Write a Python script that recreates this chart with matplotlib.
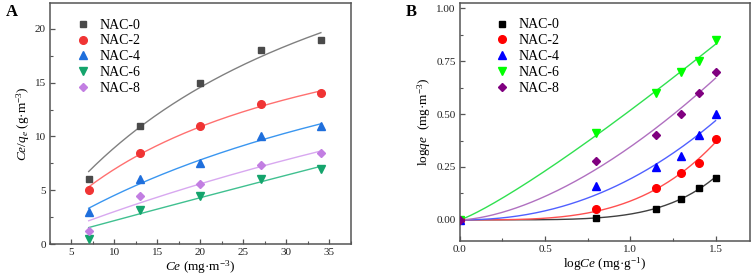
import numpy as np
import matplotlib
matplotlib.use("Agg")
import matplotlib.pyplot as plt
from matplotlib.ticker import MultipleLocator, FormatStrFormatter

plt.rcParams['font.family'] = ['Liberation Serif', 'DejaVu Serif']
plt.rcParams['mathtext.fontset'] = 'custom'
plt.rcParams['mathtext.rm'] = 'Liberation Serif'
plt.rcParams['mathtext.it'] = 'Liberation Serif:italic'

series = ['NAC-0', 'NAC-2', 'NAC-4', 'NAC-6', 'NAC-8']

# Panel A
ce_a = [7, 13, 20, 27, 34]
ya = {
    'NAC-0': [6.0, 11.0, 15.0, 18.0, 19.0],
    'NAC-2': [5.0, 8.5, 11.0, 13.0, 14.0],
    'NAC-4': [3.0, 6.0, 7.5, 10.0, 11.0],
    'NAC-6': [0.5, 3.2, 4.5, 6.0, 7.0],
    'NAC-8': [1.2, 4.5, 5.6, 7.3, 8.5],
}
# Panel B
logce_b = [0.0, 0.8, 1.15, 1.3, 1.4, 1.5]
yb = {
    'NAC-0': [0.0, 0.01, 0.05, 0.10, 0.15, 0.20],
    'NAC-2': [0.0, 0.05, 0.15, 0.22, 0.27, 0.38],
    'NAC-4': [0.0, 0.16, 0.25, 0.30, 0.40, 0.50],
    'NAC-6': [0.0, 0.41, 0.60, 0.70, 0.75, 0.85],
    'NAC-8': [0.0, 0.28, 0.40, 0.50, 0.60, 0.70],
}

markers = ['s', 'o', '^', 'v', 'D']
msizes = [5, 5.5, 5.5, 5.5, 4.5]
cols_a_m = ['#4a4a4a', '#f03434', '#1f6fdc', '#14a46c', '#c27ee2']
cols_a_l = ['#808080', '#ff7070', '#3a96f0', '#40c090', '#d8a8f0']
cols_b_m = ['#000000', '#ff0000', '#0000ff', '#00ff00', '#800080']
cols_b_l = ['#404040', '#ff5050', '#5060ff', '#30e050', '#b070c0']


def langmuir_fit(x, y):
    x = np.asarray(x, float)
    y = np.asarray(y, float)
    best = None
    for k in np.logspace(-4, 1, 5000):
        g = k * x / (1 + k * x)
        q = np.sum(y * g) / np.sum(g * g)
        err = np.sum((q * g - y) ** 2)
        if best is None or err < best[0]:
            best = (err, q, k)
    return best[1], best[2]


def power_fit(x, y):
    x = np.asarray(x, float)
    y = np.asarray(y, float)
    mask = x > 0
    best = None
    for b in np.linspace(0.1, 8, 4000):
        xb = x[mask] ** b
        a = np.sum(y[mask] * xb) / np.sum(xb * xb)
        err = np.sum((a * x ** b - y) ** 2)
        if best is None or err < best[0]:
            best = (err, a, b)
    return best[1], best[2]


fig = plt.figure(figsize=(7.54, 2.75), dpi=100)
axA = fig.add_axes([0.0663, 0.1127, 0.3992, 0.8763])
axB = fig.add_axes([0.6097, 0.1236, 0.3846, 0.8654])

for i, s in enumerate(series):
    q, k = langmuir_fit(ce_a, ya[s])
    xx = np.linspace(min(ce_a), max(ce_a), 200)
    axA.plot(xx, q * k * xx / (1 + k * xx), color=cols_a_l[i], lw=1.0, zorder=2)
    axA.plot(ce_a, ya[s], linestyle='none', marker=markers[i], ms=msizes[i],
             color=cols_a_m[i], mec=cols_a_m[i], label=s, zorder=3)

for i, s in enumerate(series):
    a, b = power_fit(logce_b, yb[s])
    xx = np.linspace(0, max(logce_b), 200)
    axB.plot(xx, a * xx ** b, color=cols_b_l[i], lw=1.0, zorder=2)
    axB.plot(logce_b, yb[s], linestyle='none', marker=markers[i], ms=msizes[i],
             color=cols_b_m[i], mec=cols_b_m[i], label=s, zorder=3)

axA.set_xlim(2.5, 37.5)
axA.set_ylim(0, 22.4)
axA.xaxis.set_major_locator(MultipleLocator(5))
axA.xaxis.set_minor_locator(MultipleLocator(2.5))
axA.yaxis.set_major_locator(MultipleLocator(5))
axA.yaxis.set_minor_locator(MultipleLocator(2.5))

axB.set_xlim(0, 1.7)
axB.set_ylim(-0.1, 1.025)
axB.xaxis.set_major_locator(MultipleLocator(0.5))
axB.xaxis.set_minor_locator(MultipleLocator(0.25))
axB.yaxis.set_major_locator(MultipleLocator(0.25))
axB.yaxis.set_minor_locator(MultipleLocator(0.125))
axB.yaxis.set_major_formatter(FormatStrFormatter('%.2f'))
axB.xaxis.set_major_formatter(FormatStrFormatter('%.1f'))

for ax, anchor in ((axA, (0.085, 0.935)), (axB, (0.122, 0.935))):
    for sp in ax.spines.values():
        sp.set_color('#555555')
        sp.set_linewidth(1.1)
    ax.tick_params(which='both', direction='in', colors='#555555', labelcolor='#222222',
                   labelsize=8)
    ax.tick_params(which='major', length=3.5, width=0.9)
    ax.tick_params(which='minor', length=2, width=0.8)
    ax.tick_params(axis='both', pad=3)
    ax.legend(loc='upper left', bbox_to_anchor=anchor, frameon=False,
              fontsize=10, handletextpad=0.7, labelspacing=0.2, borderaxespad=0.0,
              borderpad=0.0, handlelength=1.0)

axA.set_xlabel('$Ce$ (mg·m$^{-3}$)', fontsize=9.5, labelpad=1)
axA.set_ylabel('$Ce/q_e$ (g·m$^{-3}$)', fontsize=9.5, labelpad=2)
axB.set_xlabel('log$Ce$ (mg·g$^{-1}$)', fontsize=9.5, labelpad=1)
axB.set_ylabel('log$qe$  (mg·m$^{-3}$)', fontsize=9.5, labelpad=2)

fig.text(0.008, 0.955, 'A', fontsize=12, fontweight='bold', va='center', ha='left')
fig.text(0.538, 0.955, 'B', fontsize=12, fontweight='bold', va='center', ha='left')

fig.savefig('out.png', dpi=100)
